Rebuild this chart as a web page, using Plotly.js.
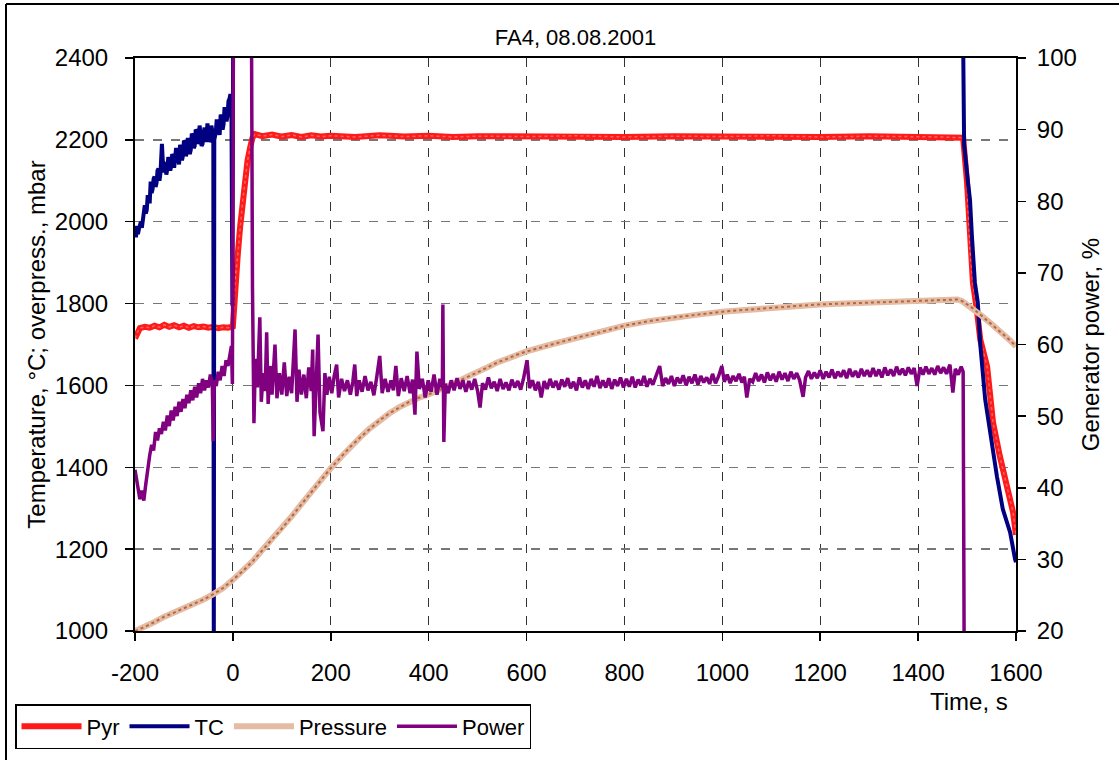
<!DOCTYPE html>
<html>
<head>
<meta charset="utf-8">
<script src="https://cdn.plot.ly/plotly-3.0.1.min.js"></script>
<style>
html,body{margin:0;padding:0;background:#fff;}
#chart{width:1119px;height:760px;}
</style>
</head>
<body>
<div id="chart"></div>
<script>
// [time s, temperature °C]
const pyrData = [
 [-200,1715],[-197,1726],[-193,1735],[-190,1740],[-180,1743],[-170,1741],[-160,1746],[-150,1742],[-140,1748],[-130,1743],
 [-120,1747],[-110,1742],[-100,1746],[-90,1741],[-80,1745],[-70,1742],[-60,1744],[-50,1741],[-40,1743],[-30,1740],
 [-20,1742],[-10,1741],[0,1744],[2,1790],[4,1850],[10,1920],[15,1990],[20,2050],[25,2100],[30,2150],[35,2180],[40,2205],
 [45,2214],[60,2209],[80,2213],[100,2208],[120,2212],[140,2207],[160,2211],[180,2208],[200,2210],[250,2207],[300,2211],
 [350,2208],[400,2210],[450,2207],[500,2209],[600,2208],[700,2210],[800,2207],[900,2209],[1000,2208],[1100,2210],
 [1200,2207],[1300,2209],[1400,2208],[1450,2207],[1492,2205],[1500,2095],[1506,1932],[1512,1851],[1520,1785],
 [1527,1712],[1541,1646],[1553,1510],[1567,1427],[1581,1354],[1594,1290],[1600,1235]
];
const tcData = [
 [-200,1975],[-198,1962],[-196,1990],[-194,1970],[-192,1982],[-190,1995],[-188,2000],[-186,1985],[-184,2012],[-182,2035],
 [-180,2040],[-178,2020],[-176,2028],[-174,2065],[-172,2060],[-170,2045],[-168,2098],[-166,2070],[-164,2080],[-162,2105],
 [-160,2110],[-158,2085],[-156,2095],[-154,2125],[-152,2130],[-150,2100],[-148,2118],[-145,2190],[-142,2120],[-140,2145],
 [-138,2140],[-136,2115],[-134,2128],[-132,2158],[-130,2150],[-128,2125],[-126,2135],[-124,2165],[-122,2160],[-120,2132],
 [-118,2148],[-116,2180],[-114,2170],[-112,2145],[-110,2140],[-108,2188],[-106,2178],[-104,2150],[-102,2162],[-100,2198],
 [-98,2195],[-96,2160],[-94,2170],[-92,2205],[-90,2188],[-88,2165],[-86,2176],[-84,2215],[-82,2210],[-80,2180],
 [-78,2185],[-76,2225],[-74,2222],[-72,2190],[-70,2200],[-68,2235],[-66,2212],[-64,2185],[-62,2190],[-60,2230],
 [-58,2230],[-56,2195],[-54,2205],[-52,2240],[-50,2222],[-48,2195],[-46,2200],[-44,2235],
 [-41,2215],[-40,2200],[-39,900],[-38,2200],[-35,2218],[-33,2250],[-31,2235],[-29,2215],[-27,2212],[-25,2262],[-23,2252],
 [-21,2225],[-19,2238],[-17,2280],[-15,2270],[-13,2245],[-11,2258],[-9,2295],[-7,2300],[-5,2312],[-3,2290],[-1,1795],
 [1,2700],[1490,2700],[1494,2188],[1502,2095],[1506,2054],
 [1510,1963],[1516,1851],[1522,1802],[1527,1700],[1537,1566],[1547,1485],[1561,1378],[1573,1298],[1588,1241],
 [1598,1176],[1600,1168]
];
// [time s, overpressure mbar]
const pressureData = [
 [-200,1000],[-180,1010],[-160,1022],[-140,1035],[-120,1045],[-100,1055],[-80,1066],[-60,1077],[-40,1090],[-20,1105],
 [0,1125],[20,1146],[40,1170],[60,1198],[80,1224],[100,1250],[120,1280],[140,1310],[160,1340],[180,1370],[200,1398],
 [220,1424],[240,1450],[260,1473],[280,1495],[300,1515],[320,1532],[340,1547],[360,1560],[380,1570],[400,1578],
 [420,1588],[440,1597],[460,1610],[480,1622],[500,1632],[520,1644],[540,1656],[560,1665],[580,1675],[600,1683],
 [650,1700],[700,1716],[750,1730],[800,1746],[850,1757],[900,1766],[950,1773],[1000,1780],[1050,1785],[1100,1790],
 [1150,1794],[1200,1798],[1250,1800],[1300,1802],[1350,1804],[1400,1806],[1450,1808],[1480,1810],[1490,1806],
 [1500,1798],[1510,1790],[1530,1770],[1550,1750],[1570,1730],[1588,1710],[1600,1695]
];
// [time s, generator power %]
const powerData = [
 [-200,42.5],[-197,41],[-193,39.5],[-190,38.4],[-186,39.6],[-182,38.2],[-178,40.5],[-174,42.8],[-170,44.5],[-166,46],
 [-162,45.2],[-158,47.8],[-154,46.6],[-150,48.3],[-146,47.5],[-142,49.2],[-138,48],[-134,50.1],[-130,48.6],[-126,50.8],
 [-122,49.4],[-118,51.3],[-114,50],[-110,52],[-106,50.6],[-102,52.4],[-98,51.1],[-94,53],[-90,51.8],[-86,53.6],
 [-82,52.2],[-78,54.1],[-74,52.6],[-70,54.6],[-66,53.2],[-62,55.2],[-58,53.6],[-54,55],[-50,54],[-46,55.8],
 [-42,54.4],[-40,46.5],[-38,55],[-34,54.2],[-30,56.2],[-26,55],[-22,57],[-18,55.6],[-14,57.8],[-10,57],
 [-6,58.6],[-3,59.8],[-1,54.5],[1,104],[38,104],[40,68],[43,49],[46,58],[50,54],[55,63.8],[58,52],[62,56],
 [66,53.5],[69,61.7],[72,51.7],[76,57],[80,53],[86,60],[90,52.5],[95,56],[100,53],[105,57.5],[110,52.8],[115,55.5],
 [120,53.2],[127,62.1],[131,52],[135,56.5],[140,53],[145,55.8],[150,52.5],[155,56.8],[160,53.5],[163,59.3],[166,47.2],
 [170,55],[174,61.4],[178,50.5],[184,47.9],[188,56],[192,53],[197,55.5],[202,53.2],[207,55.6],[212,57.2],[216,52.6],
 [222,55.2],[228,53.5],[234,55],[240,53],[245,54.8],[249,57.2],[253,52.8],[258,55],[264,53.4],[270,55.6],[276,53.6],
 [282,54.8],[288,52.9],[294,55.5],[300,58.4],[305,53.2],[311,55.2],[317,53.4],[323,55],[328,53.6],[333,57],[338,52.8],
 [344,55.3],[350,53.5],[356,55.6],[362,53.2],[367,55.1],[372,50.2],[376,59],[381,53.8],[387,55.2],[393,52.6],[399,55],
 [405,53.4],[411,55.8],[417,53],[423,55.2],[428,54],[429,65.6],[431,46.4],[434,54.5],[440,53.2],[446,55],[452,53.6],
 [458,55.3],[464,53.8],[470,55],[476,53.4],[482,54.9],[488,53.7],[494,55.2],[500,53.5],[505,51.2],[510,54.6],[516,53.7],
 [522,55.4],[528,53.9],[534,54.8],[540,53.5],[546,55.2],[552,53.8],[558,54.7],[564,53.6],[570,55.1],[576,54],[582,54.9],
 [588,53.7],[594,55.3],[601,57.8],[606,53.9],[612,55],[618,53.6],[624,54.8],[630,52.6],[636,54.9],[642,53.8],[648,55.2],
 [654,54],[660,54.9],[666,53.7],[672,55.1],[678,54.1],[684,55.3],[690,53.9],[696,54.8],[702,53.6],[708,55.4],[714,54],
 [720,55],[726,53.8],[732,55.2],[738,54.1],[744,55.6],[750,53.9],[756,55],[762,54],[768,55.3],[774,53.8],[780,55.1],
 [786,54.2],[792,55.4],[798,54],[804,55.2],[810,54.1],[816,55.5],[822,54],[828,55.1],[834,54.3],[840,55.6],[846,54.1],
 [852,55.2],[858,54.4],[864,55.5],[872,57],[878,54.2],[884,55.3],[890,54.5],[896,55.6],[902,54.2],[908,55.4],[914,54.6],
 [920,55.7],[926,54.3],[932,55.5],[938,54.6],[944,55.8],[950,54.4],[956,55.6],[962,54.7],[968,55.4],[974,54.5],[980,55.9],
 [986,54.6],[992,55.5],[999,57],[1004,54.8],[1010,55.8],[1016,54.6],[1022,55.6],[1028,54.9],[1034,55.9],[1040,54.7],
 [1045,55.5],[1050,52.6],[1056,55.2],[1062,54.8],[1068,56],[1074,54.9],[1080,55.8],[1086,54.7],[1092,56.1],[1098,55],
 [1104,55.9],[1110,54.8],[1116,56.2],[1122,55.1],[1128,56],[1134,54.9],[1140,56.2],[1146,55.2],[1152,56],[1158,55],
 [1165,52.7],[1170,55.4],[1176,56.3],[1182,55.2],[1188,56.1],[1194,55.3],[1200,56.4],[1206,55.2],[1212,56.2],[1218,55.4],
 [1224,56.5],[1230,55.3],[1236,56.2],[1242,55.5],[1248,56.4],[1254,55.3],[1260,56.6],[1266,55.5],[1272,56.3],[1278,55.4],
 [1284,56.6],[1290,55.6],[1296,56.4],[1302,55.5],[1308,56.7],[1314,55.6],[1320,56.5],[1326,55.4],[1332,56.8],[1338,55.7],
 [1344,56.5],[1350,55.6],[1356,56.9],[1362,55.8],[1368,56.6],[1374,55.7],[1380,56.8],[1386,55.9],[1392,56.7],[1398,54.2],
 [1404,56.8],[1410,55.8],[1416,56.9],[1422,55.9],[1428,56.7],[1434,55.8],[1440,57],[1446,56],[1452,56.8],[1458,55.9],
 [1465,57.2],[1471,53.3],[1476,56.6],[1482,55.8],[1488,56.9],[1492,56.2],[1494,19]
];

const xTicks = [-200,0,200,400,600,800,1000,1200,1400,1600];
const yTicks = [1000,1200,1400,1600,1800,2000,2200,2400];
const y2Ticks = [20,30,40,50,60,70,80,90,100];

const col = (d,i) => d.map(p => p[i]);
const FONT = 'Liberation Sans, Arial, sans-serif';

const traces = [
 {name:'Pyr', x:col(pyrData,0), y:col(pyrData,1), mode:'lines', line:{color:'#ff1a1a', width:6}, yaxis:'y'},
 {name:'Pyr', x:col(pyrData,0), y:col(pyrData,1), mode:'lines', line:{color:'rgba(255,150,150,0.6)', width:1.5, dash:'dot'}, yaxis:'y', showlegend:false, hoverinfo:'skip'},
 {name:'TC', x:col(tcData,0), y:col(tcData,1), mode:'lines', line:{color:'#000080', width:4}, yaxis:'y'},
 {name:'Pressure', x:col(pressureData,0), y:col(pressureData,1), mode:'lines', line:{color:'#e4bba3', width:6}, yaxis:'y'},
 {name:'Pressure', x:col(pressureData,0), y:col(pressureData,1), mode:'lines', line:{color:'rgba(165,75,35,0.75)', width:2, dash:'dot'}, yaxis:'y', showlegend:false, hoverinfo:'skip'},
 {name:'Power', x:col(powerData,0), y:col(powerData,1), mode:'lines', line:{color:'#800080', width:3.5}, yaxis:'y2'}
];

const layout = {
 width:1119, height:760,
 margin:{l:135, r:103, t:58, b:128},
 paper_bgcolor:'#fff', plot_bgcolor:'#fff',
 font:{family:FONT, color:'#000', size:24},
 showlegend:true,
 title:{text:'FA4, 08.08.2001', font:{family:FONT, size:22, color:'#000'}, x:0.5, xref:'paper', xanchor:'center', y:1-37/760, yref:'container', yanchor:'middle'},
 xaxis:{range:[-200,1600], tickvals:xTicks, ticktext:xTicks.map(String), ticks:'outside', ticklen:8, tickwidth:1.5, tickcolor:'#000',
   showline:true, linecolor:'#000', linewidth:2, mirror:true, showgrid:true, gridcolor:'#333', griddash:'dash', gridwidth:1,
   zeroline:false, ticklabelstandoff:11, tickfont:{size:24},
   title:{text:''}},
 yaxis:{range:[1000,2400], tickvals:yTicks, ticktext:yTicks.map(String), ticks:'outside', ticklen:8, tickwidth:1.5, tickcolor:'#000',
   showline:true, linecolor:'#000', linewidth:2, mirror:true, showgrid:true, gridcolor:'#777', griddash:'dash', gridwidth:1.5,
   zeroline:false, ticklabelstandoff:12, tickfont:{size:24},
   title:{text:'Temperature, °C; overpress., mbar', font:{size:24}, standoff:2}},
 yaxis2:{overlaying:'y', side:'right', range:[20,100], tickvals:y2Ticks, ticktext:y2Ticks.map(String), ticks:'outside', ticklen:8, tickwidth:1.5, tickcolor:'#000',
   showline:true, linecolor:'#000', linewidth:2, showgrid:false, zeroline:false, ticklabelstandoff:6, tickfont:{size:24},
   title:{text:'Generator power, %', font:{size:24}, standoff:6}},
 legend:{orientation:'h', x:(15-135)/881, xanchor:'left', y:(632-704)/574, yanchor:'top', bgcolor:'#fff', bordercolor:'#000', borderwidth:1.5,
   font:{size:22, family:FONT}, traceorder:'normal', itemwidth:60},
 annotations:[
  {text:'Time, s', xref:'paper', yref:'paper', x:(969-135)/881, y:(632-703)/574, xanchor:'center', yanchor:'middle', showarrow:false, font:{size:24, family:FONT}}
 ],
 shapes:[
  {type:'line', xref:'paper', yref:'paper', x0:(6-135)/881, x1:(1130-135)/881, y0:(632-4)/574, y1:(632-4)/574, line:{color:'#000', width:2}},
  {type:'line', xref:'paper', yref:'paper', x0:(6-135)/881, x1:(6-135)/881, y0:(632-4)/574, y1:(632-770)/574, line:{color:'#000', width:2}}
 ]
};

Plotly.newPlot('chart', traces, layout, {displayModeBar:false, staticPlot:true});
</script>
</body>
</html>
